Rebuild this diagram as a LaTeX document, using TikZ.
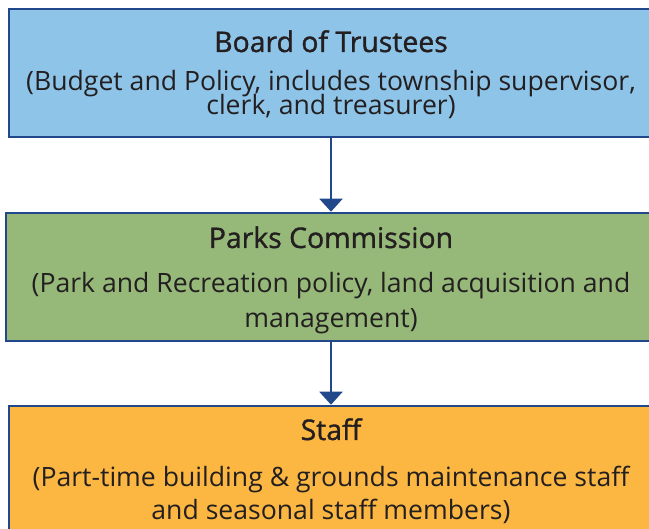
\documentclass[tikz,border=0pt]{standalone}
\usepackage{fontspec}
\setmainfont{Open Sans}
\newfontfamily\headfont[FakeBold=1.2]{Open Sans}
\usepackage{xcolor}
\usetikzlibrary{arrows.meta, positioning}
\definecolor{frame}{RGB}{34,72,140}
\definecolor{trustee}{RGB}{142,196,232}
\definecolor{parkgreen}{RGB}{150,185,122}
\definecolor{staffgold}{RGB}{252,183,66}
\definecolor{ink}{RGB}{35,31,32}
\tikzset{
  level/.style={draw=frame, line width=2.5pt, rectangle, inner sep=0pt, minimum width=660pt},
  head/.style={text=ink, anchor=base, font=\headfont\fontsize{28.4}{30}\selectfont},
  desc/.style={text=ink, anchor=base, font=\fontsize{26.6}{30}\selectfont},
  flow/.style={draw=frame, line width=2pt, -{Triangle[width=23pt,length=13pt]}}
}

\begin{document}
\begin{tikzpicture}[x=1pt, y=-1pt]
\useasboundingbox (0,0) rectangle (649,529);
\node[level, fill=trustee, minimum height=128pt] (board) at (339,73) {};
\node[level, fill=parkgreen, minimum height=128pt] (parks) at (336,277) {};
\node[level, fill=staffgold, minimum height=150pt] (staff) at (339,481) {};

\node[head] (boardtitle) at (331,52) {Board of Trustees};
\node[desc] (boarddesc1) at (331,91) {(Budget and Policy, includes township supervisor,};
\node[desc] (boarddesc2) at (331,115) {clerk, and treasurer)};

\node[head] (parkstitle) at (331,248) {Parks Commission};
\node[desc] (parksdesc1) at (331,293) {(Park and Recreation policy, land acquisition and};
\node[desc] (parksdesc2) at (331,328) {management)};

\node[head] (stafftitle) at (331,440) {Staff};
\node[desc] (staffdesc1) at (331,487) {(Part-time building \& grounds maintenance staff};
\node[desc] (staffdesc2) at (331,520) {and seasonal staff members)};

\draw[flow] (board.south -| boardtitle) -- (parks.north -| boardtitle);
\draw[flow] (parks.south -| parkstitle) -- (staff.north -| parkstitle);
\end{tikzpicture}
\end{document}
